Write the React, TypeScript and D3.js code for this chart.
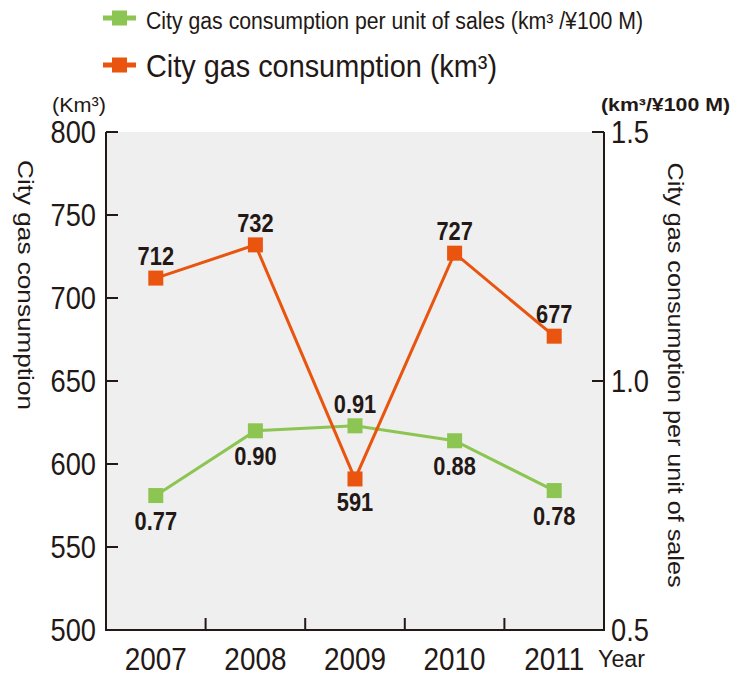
import React from "react";
import * as d3 from "d3";

const years = ["2007", "2008", "2009", "2010", "2011"];
const consumption = [712, 732, 591, 727, 677];
const perUnit = [0.77, 0.9, 0.91, 0.88, 0.78];
const leftTicks = [500, 550, 600, 650, 700, 750, 800];
const rightTicks = [0.5, 1.0, 1.5];
const perUnitLabelAbove = [false, false, true, false, false];
const consumptionLabelAbove = [true, true, false, true, true];

const ORANGE = "#e9540f";
const GREEN = "#8cc552";
const INK = "#231815";
const FONT = "'Liberation Sans', Arial, sans-serif";

export default function App() {
  const W = 731, H = 676;
  const x0 = 106, x1 = 604, yT = 132, yB = 630;
  const x = d3.scaleBand<string>().domain(years).range([x0, x1]);
  const yL = d3.scaleLinear().domain([500, 800]).range([yB, yT]);
  const yR = d3.scaleLinear().domain([0.5, 1.5]).range([yB, yT]);
  const cx = (y: string) => (x(y) as number) + x.bandwidth() / 2;

  const lineL = d3.line<number>().x((_, i) => cx(years[i])).y((d) => yL(d));
  const lineR = d3.line<number>().x((_, i) => cx(years[i])).y((d) => yR(d));
  const ms = 15;
  const tick = 12;
  const sx = 0.88;

  return (
    <svg width={W} height={H} style={{ position: "absolute", left: 0, top: 0 }}>
      <rect x={0} y={0} width={W} height={H} fill="#ffffff" />
      {/* legend */}
      <g>
        <line x1={103} x2={136} y1={18} y2={18} stroke={GREEN} strokeWidth={5} />
        <rect x={119.5 - 7.5} y={18 - 7.5} width={15} height={15} fill={GREEN} />
        <text x={146} y={29} fontFamily={FONT} fontSize={23} fill={INK} textLength={497} lengthAdjust="spacingAndGlyphs">
          City gas consumption per unit of sales (km³ /¥100 M)
        </text>
        <line x1={103} x2={136} y1={65} y2={65} stroke={ORANGE} strokeWidth={5} />
        <rect x={119.5 - 7.5} y={65 - 7.5} width={15} height={15} fill={ORANGE} />
        <text x={146} y={77} fontFamily={FONT} fontSize={31} fill={INK} textLength={351} lengthAdjust="spacingAndGlyphs">
          City gas consumption (km³)
        </text>
      </g>

      {/* plot background */}
      <rect x={x0} y={yT} width={x1 - x0} height={yB - yT} fill="#efefef" />

      {/* axes */}
      <g stroke={INK} strokeWidth={2} fill="none">
        <path d={`M${x0},${yT}V${yB}H${x1}V${yT}`} />
        {leftTicks.filter((t) => t !== 500).map((t) => (
          <line key={"lt" + t} x1={x0} x2={x0 + tick} y1={yL(t)} y2={yL(t)} />
        ))}
        {rightTicks.filter((t) => t !== 0.5).map((t) => (
          <line key={"rt" + t} x1={x1 - tick} x2={x1} y1={yR(t)} y2={yR(t)} />
        ))}
        {years.slice(1).map((y) => (
          <line key={"bt" + y} x1={x(y) as number} x2={x(y) as number} y1={yB} y2={yB - tick} />
        ))}
      </g>

      {/* tick labels */}
      <g fontFamily={FONT} fontSize={31} fill={INK}>
        {leftTicks.map((t) => (
          <g key={"ll" + t} transform={`translate(96,${yL(t)}) scale(${sx},1)`}>
            <text x={0} y={0} dy="0.36em" textAnchor="end">{t}</text>
          </g>
        ))}
        {rightTicks.map((t) => (
          <g key={"rl" + t} transform={`translate(611,${yR(t)}) scale(${sx},1)`}>
            <text x={0} y={0} dy="0.36em" textAnchor="start">{t.toFixed(1)}</text>
          </g>
        ))}
        {years.map((y) => (
          <g key={"yl" + y} transform={`translate(${cx(y)},670) scale(0.9,1)`}>
            <text x={0} y={0} fontSize={31} textAnchor="middle">{y}</text>
          </g>
        ))}
      </g>
      <text x={598} y={667} fontFamily={FONT} fontSize={23} fill={INK} textLength={47} lengthAdjust="spacingAndGlyphs">Year</text>

      {/* units */}
      <text x={52} y={112} fontFamily={FONT} fontSize={20} fill={INK} textLength={54} lengthAdjust="spacingAndGlyphs">(Km³)</text>
      <text x={601} y={111} fontFamily={FONT} fontWeight="bold" fontSize={18} fill={INK} textLength={129} lengthAdjust="spacingAndGlyphs">(km³/¥100 M)</text>

      {/* axis titles */}
      <text transform={`translate(18,285) rotate(90)`} textAnchor="middle" fontFamily={FONT} fontSize={22} fill={INK} textLength={250} lengthAdjust="spacingAndGlyphs">City gas consumption</text>
      <text transform={`translate(668,375) rotate(90)`} textAnchor="middle" fontFamily={FONT} fontSize={22} fill={INK} textLength={425} lengthAdjust="spacingAndGlyphs">City gas consumption per unit of sales</text>

      {/* series lines */}
      <path d={lineR(perUnit) as string} fill="none" stroke={GREEN} strokeWidth={3} />
      <path d={lineL(consumption) as string} fill="none" stroke={ORANGE} strokeWidth={3} />

      {/* markers */}
      {perUnit.map((v, i) => (
        <rect key={"gm" + i} x={cx(years[i]) - ms / 2} y={yR(v) - ms / 2} width={ms} height={ms} fill={GREEN} />
      ))}
      {consumption.map((v, i) => (
        <rect key={"om" + i} x={cx(years[i]) - ms / 2} y={yL(v) - ms / 2} width={ms} height={ms} fill={ORANGE} />
      ))}

      {/* data labels */}
      <g fontFamily={FONT} fontWeight="bold" fontSize={26} fill={INK} textAnchor="middle">
        {perUnit.map((v, i) => (
          <g key={"gl" + i} transform={`translate(${cx(years[i])},${yR(v) + (perUnitLabelAbove[i] ? -13 : 34)}) scale(0.84,1)`}>
            <text x={0} y={0}>{v.toFixed(2)}</text>
          </g>
        ))}
        {consumption.map((v, i) => (
          <g key={"ol" + i} transform={`translate(${cx(years[i])},${yL(v) + (consumptionLabelAbove[i] ? -13 : 32)}) scale(0.84,1)`}>
            <text x={0} y={0}>{v}</text>
          </g>
        ))}
      </g>
    </svg>
  );
}
